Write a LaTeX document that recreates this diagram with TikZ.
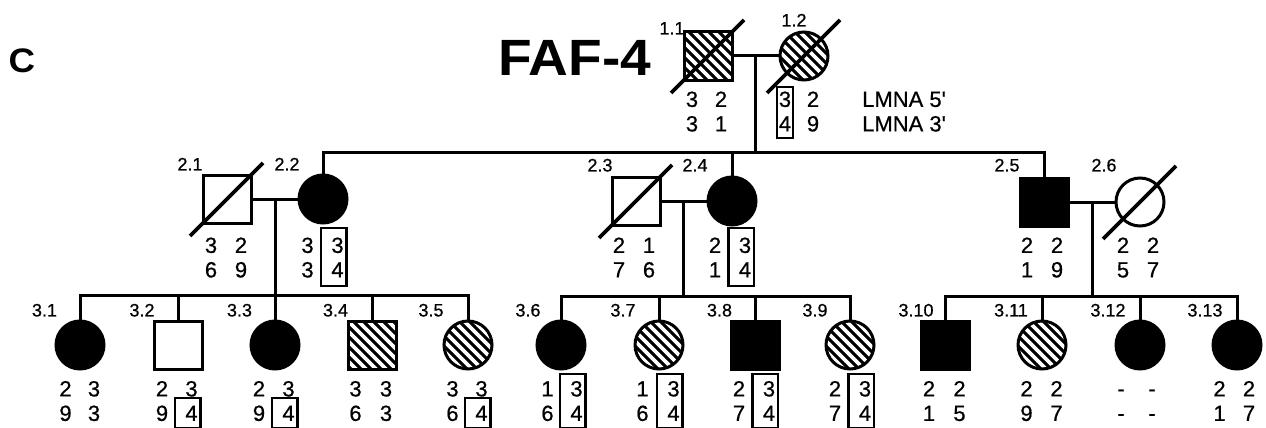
\documentclass[tikz,border=0pt]{standalone}
\usepackage{fontspec}
\setmainfont{Liberation Sans}
\newfontfamily\gtfont[FakeBold=0.6]{Liberation Sans}
\newfontfamily\titlefont[FakeStretch=1.08]{Liberation Sans}
\usetikzlibrary{calc}
\tikzset{
  ind/.style={draw, line width=3pt, inner sep=0pt, minimum size=48pt},
  male/.style={ind, rectangle},
  female/.style={ind, circle},
  aff/.style={fill=black},
  carrier/.style={fill=black, path picture={
      \foreach \k in {-7,...,7}
        \draw[white, line width=3.6pt]
          ($(path picture bounding box.center)+(\k*10pt-40pt,40pt)$) -- ++(80pt,-80pt);}},
  conn/.style={line width=3pt},
  slash/.style={line width=3.8pt},
  gt/.style={font=\gtfont\fontsize{22}{24}\selectfont, inner sep=0pt, text height=15.8pt, text depth=0pt},
  lab/.style={font=\gtfont\fontsize{18}{20}\selectfont, inner sep=0pt, text height=12.9pt, text depth=0pt},
  gbox/.style={line width=2.4pt},
}
\newcommand{\geno}[8]{%
  \node[gt] (#1a) at (#2,#4) {#5};
  \node[gt] (#1b) at (#3,#4) {#6};
  \node[gt] (#1c) at (#2,#4+24.5) {#7};
  \node[gt] (#1d) at (#3,#4+24.5) {#8};}
\newcommand{\gbox}[6]{%
  \draw[gbox] ($(#1)+(#3,-#5)$) rectangle ($(#2)+(#4,#6)$);}
\newcommand{\dslash}[1]{%
  \draw[slash] ($(#1)+(-37,37)$) -- ($(#1)+(36,-36)$);}
\begin{document}
\begin{tikzpicture}[x=1pt,y=-1pt]
\useasboundingbox (0,0) rectangle (1266,428);

% titles
\node[font=\titlefont\fontsize{34}{34}\selectfont\bfseries, anchor=base west, inner sep=0pt] (lblC) at (8.5,73) {C};
\node[font=\titlefont\fontsize{51}{51}\selectfont\bfseries, anchor=base, inner sep=0pt] (title) at (574.5,75) {FAF-4};

% generation 1
\node[male,carrier] (n11) at (708,56) {};
\node[female,carrier] (n12) at (804,56) {};
\dslash{n11}
\dslash{n12}
\node[lab] (l11) at (672,28) {1.1};
\node[lab] (l12) at (794,20) {1.2};
\geno{g11}{692}{721}{99}{3}{2}{3}{1}
\geno{g12}{785}{813}{99}{3}{2}{4}{9}
\gbox{g12a}{g12c}{-8}{8}{12}{14.5}
\node[gt, anchor=west] (lm5) at (862,99) {LMNA 5\textquotesingle};
\node[gt, anchor=west] (lm3) at (862,123.5) {LMNA 3\textquotesingle};

% generation 2
\node[male] (n21) at (227,199) {};
\node[female,aff] (n22) at (323,199) {};
\node[male] (n23) at (636,201) {};
\node[female,aff] (n24) at (732,201) {};
\node[male,aff] (n25) at (1044,202) {};
\node[female] (n26) at (1140,202) {};
\dslash{n21}
\dslash{n23}
\dslash{n26}
\node[lab] (l21) at (190,164) {2.1};
\node[lab] (l22) at (287,164) {2.2};
\node[lab] (l23) at (600,165) {2.3};
\node[lab] (l24) at (695,165) {2.4};
\node[lab] (l25) at (1007,165) {2.5};
\node[lab] (l26) at (1104,165) {2.6};
\geno{g21}{211}{241}{245}{3}{2}{6}{9}
\geno{g22}{307.5}{337.5}{245}{3}{3}{3}{4}
\geno{g23}{619}{649}{245}{2}{1}{7}{6}
\geno{g24}{715}{745}{245}{2}{3}{1}{4}
\geno{g25}{1027}{1057}{245}{2}{2}{1}{9}
\geno{g26}{1123}{1153}{245}{2}{2}{5}{7}
\gbox{g22b}{g22d}{-16.5}{9}{17}{16.5}
\gbox{g24b}{g24d}{-16.5}{9}{17}{16.5}

% generation 3
\node[female,aff] (n31) at (80,345) {};
\node[male] (n32) at (178,345) {};
\node[female,aff] (n33) at (275,345) {};
\node[male,carrier] (n34) at (372,345) {};
\node[female,carrier] (n35) at (468,345) {};
\node[female,aff] (n36) at (561,345) {};
\node[female,carrier] (n37) at (659,345) {};
\node[male,aff] (n38) at (755,345) {};
\node[female,carrier] (n39) at (850,345) {};
\node[male,aff] (n310) at (945,345) {};
\node[female,carrier] (n311) at (1042,345) {};
\node[female,aff] (n312) at (1140,345) {};
\node[female,aff] (n313) at (1237,345) {};
\node[lab] (l31) at (44.5,310) {3.1};
\node[lab] (l32) at (142,310) {3.2};
\node[lab] (l33) at (239.5,310) {3.3};
\node[lab] (l34) at (335.5,310) {3.4};
\node[lab] (l35) at (431,310) {3.5};
\node[lab] (l36) at (528,310) {3.6};
\node[lab] (l37) at (623,310) {3.7};
\node[lab] (l38) at (719.5,310) {3.8};
\node[lab] (l39) at (815,310) {3.9};
\node[lab] (l310) at (916,310) {3.10};
\node[lab] (l311) at (1011,310) {3.11};
\node[lab] (l312) at (1108,310) {3.12};
\node[lab] (l313) at (1205,310) {3.13};
\geno{g31}{65.5}{94}{388.5}{2}{3}{9}{3}
\geno{g32}{162}{191.5}{388.5}{2}{3}{9}{4}
\geno{g33}{259}{288.5}{388.5}{2}{3}{9}{4}
\geno{g34}{355.5}{386}{388.5}{3}{3}{6}{3}
\geno{g35}{452.5}{481.5}{388.5}{3}{3}{6}{4}
\geno{g36}{547.5}{576.5}{388.5}{1}{3}{6}{4}
\geno{g37}{642.5}{673.5}{388.5}{1}{3}{6}{4}
\geno{g38}{739}{769}{388.5}{2}{3}{7}{4}
\geno{g39}{835}{865}{388.5}{2}{3}{7}{4}
\geno{g310}{929}{959.5}{388.5}{2}{2}{1}{5}
\geno{g311}{1026.5}{1056.5}{388.5}{2}{2}{9}{7}
\geno{g312}{1121}{1152}{388.5}{-}{-}{-}{-}
\geno{g313}{1219.5}{1249}{388.5}{2}{2}{1}{7}
\gbox{g32d}{g32d}{-16.5}{9}{15}{15}
\gbox{g33d}{g33d}{-16.5}{9}{15}{15}
\gbox{g35d}{g35d}{-16.5}{9}{15}{15}
\gbox{g36b}{g36d}{-16.5}{9}{14.5}{15}
\gbox{g37b}{g37d}{-16.5}{9}{14.5}{15}
\gbox{g38b}{g38d}{-16.5}{9}{14.5}{15}
\gbox{g39b}{g39d}{-16.5}{9}{14.5}{15}

% connectors
\coordinate (m1) at (755,56);
\coordinate (s1) at (755,152);
\draw[conn] (n11.east) -- (n12.west);
\draw[conn] (m1) -- (s1);
\draw[conn] (n22.north) |- (n25.north |- s1) -- (n25.north);
\draw[conn] (n24.north) -- (n24.north |- s1);

\coordinate (m2) at (275,199);
\coordinate (s2) at (275,295);
\draw[conn] (n21.east) -- (n22.west);
\draw[conn] (m2) -- (s2);
\draw[conn] (n31.north) |- (n35.north |- s2) -- (n35.north);
\foreach \c in {n32,n33,n34} \draw[conn] (\c.north) -- (\c.north |- s2);

\coordinate (m3) at (683,201);
\coordinate (s3) at (683,296);
\draw[conn] (n23.east) -- (n24.west);
\draw[conn] (m3) -- (s3);
\draw[conn] (n36.north) |- (n39.north |- s3) -- (n39.north);
\foreach \c in {n37,n38} \draw[conn] (\c.north) -- (\c.north |- s3);

\coordinate (m4) at (1092,202);
\coordinate (s4) at (1092,296);
\draw[conn] (n25.east) -- (n26.west);
\draw[conn] (m4) -- (s4);
\draw[conn] (n310.north) |- (n313.north |- s4) -- (n313.north);
\foreach \c in {n311,n312} \draw[conn] (\c.north) -- (\c.north |- s4);
\end{tikzpicture}
\end{document}
